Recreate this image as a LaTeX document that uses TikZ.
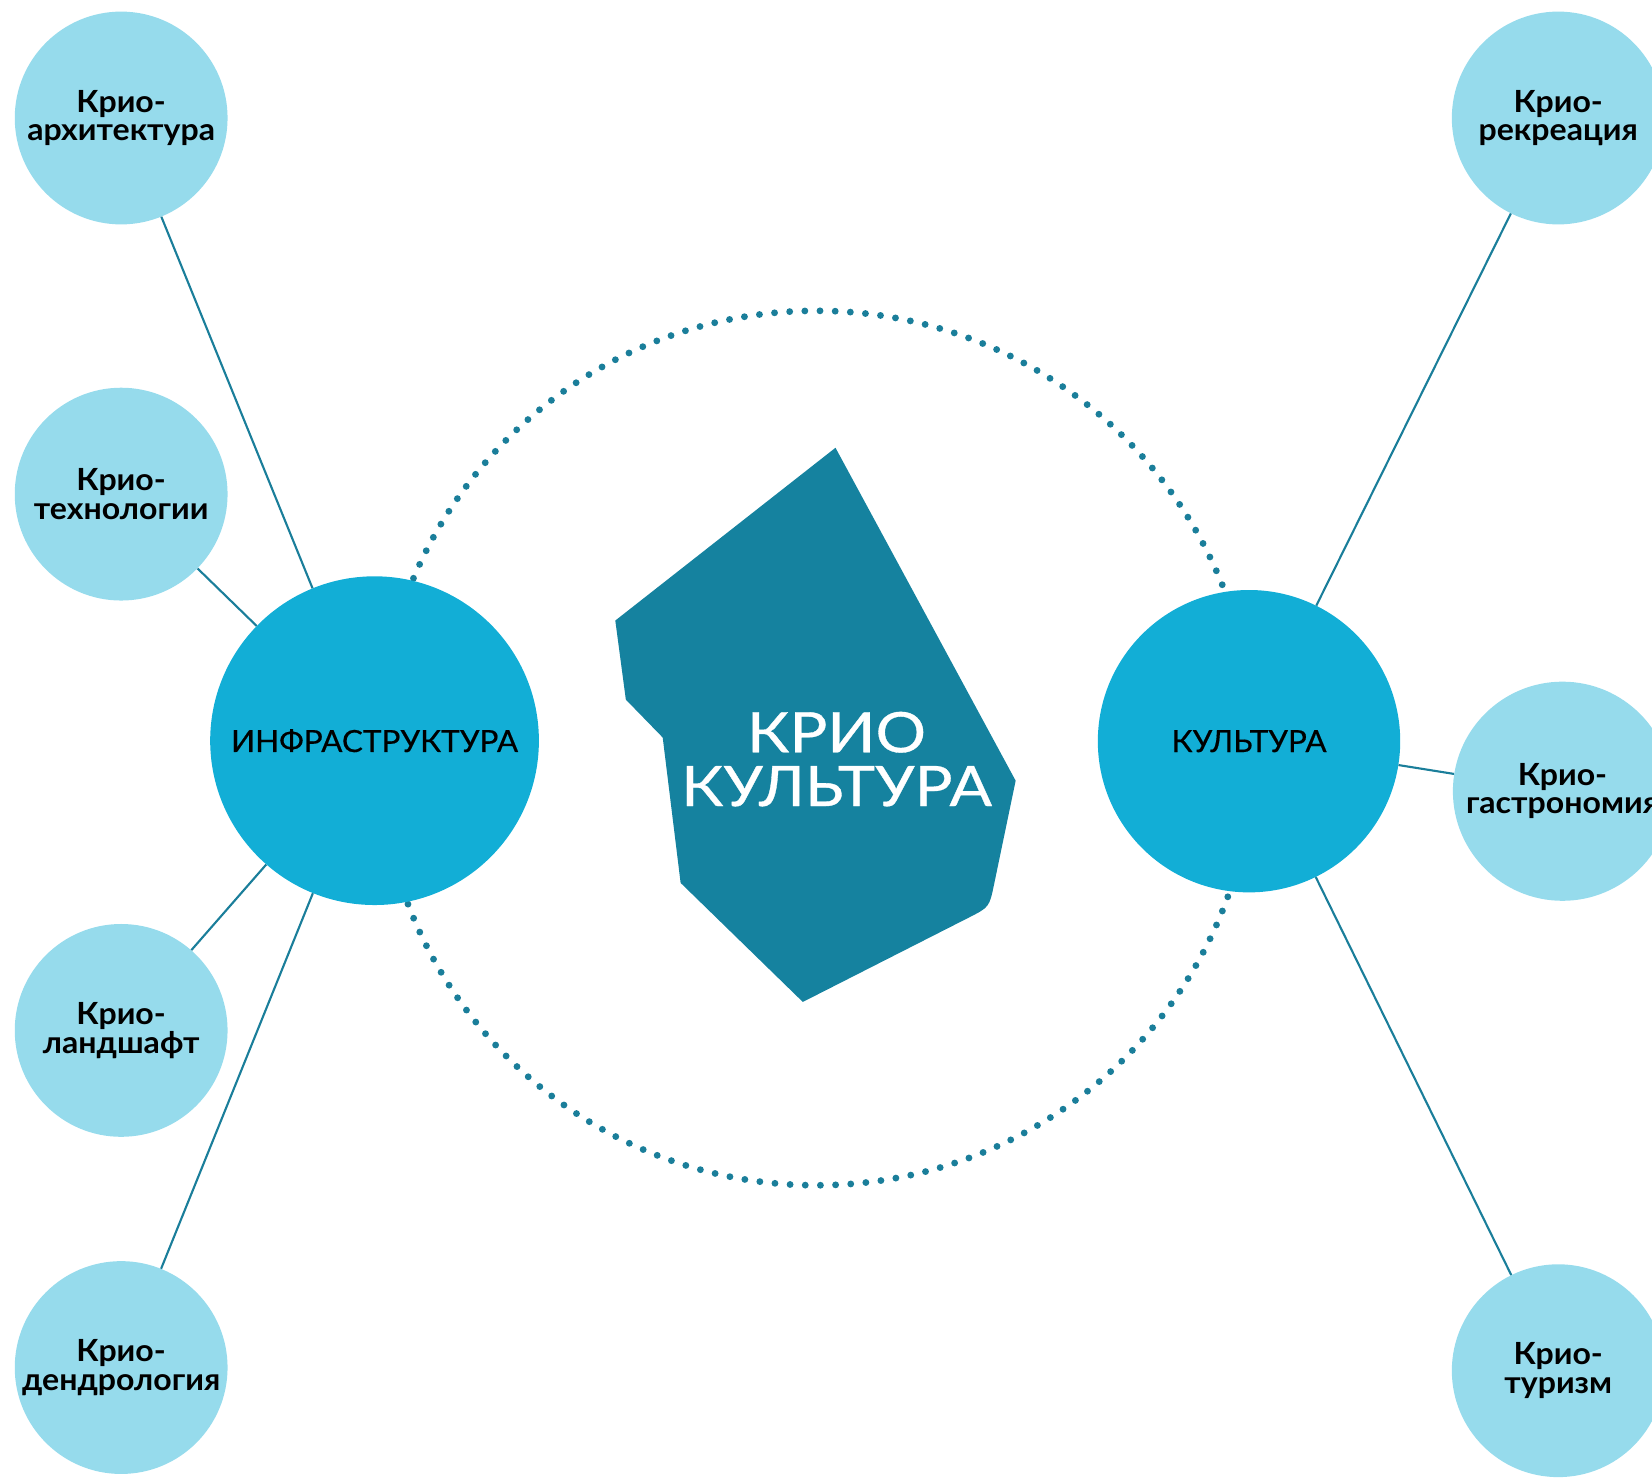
\documentclass[tikz,border=0pt]{standalone}
\usepackage{fontspec}
\setmainfont{Lato}
\newfontfamily\hubfont[FakeStretch=1.03,FakeBold=0.4]{Lato}
\newfontfamily\leaffont[FakeStretch=1.05]{Lato}
\newfontfamily\titlefont[FakeStretch=1.13,FakeBold=0.6]{Lato}
\usetikzlibrary{positioning}
\definecolor{ice}{RGB}{150,219,236}
\definecolor{sky}{RGB}{18,174,214}
\definecolor{deep}{RGB}{21,130,159}
\definecolor{wire}{RGB}{26,126,154}

\begin{document}
\begin{tikzpicture}[x=1pt,y=-1pt,
  small/.style={circle,fill=ice,minimum size=202pt,inner sep=0pt,align=center,
    font=\leaffont\fontsize{29}{27}\selectfont\bfseries},
  big/.style={circle,fill=sky,inner sep=0pt,font=\hubfont\fontsize{29}{30}\selectfont},
  link/.style={draw=wire,line width=2pt},
  dotring/.style={draw=wire,line width=6.5pt,line cap=round,dash pattern=on 0pt off 14.406pt}]
\useasboundingbox (0,0) rectangle (1568,1402);
\clip (0,0) rectangle (1568,1402);
% dotted ring behind the two hubs
\coordinate (ring) at (775,710);
\draw[dotring] (ring) circle (415);
\node[big,minimum size=312pt] (infra) at (355.5,703) {ИНФРАСТРУКТУРА};
\node[big,minimum size=287pt] (cult) at (1185.5,703.5) {КУЛЬТУРА};
% satellites
\foreach \n/\y/\t in {arch/112/архитектура,tech/469/технологии,land/978/ландшафт,dendro/1298/дендрология}
  \node[small] (\n) at (115,\y) {Крио-\\\t};
\node[small] (recr) at (1479,112) {Крио-\\рекреация};
\node[small,minimum size=208pt] (gastro) at (1483,751) {Крио-\\гастрономия};
\node[small] (tour) at (1479,1301) {Крио-\\туризм};
\foreach \n in {arch,tech,land,dendro} \draw[link] (\n) -- (infra);
\foreach \n in {recr,gastro,tour} \draw[link] (\n) -- (cult);
% centre shape
\fill[deep] (793,425) -- (964,741) -- (943.5,839.5) .. controls (939,861) .. (919.4,871)
  -- (762,951) -- (646,838) -- (629,700) -- (594,664) -- (584,589) -- cycle;
\node[white,align=center,font=\titlefont\fontsize{53}{51}\selectfont] (title) at (794,720.5) {КРИО\\КУЛЬТУРА};
\end{tikzpicture}
\end{document}
